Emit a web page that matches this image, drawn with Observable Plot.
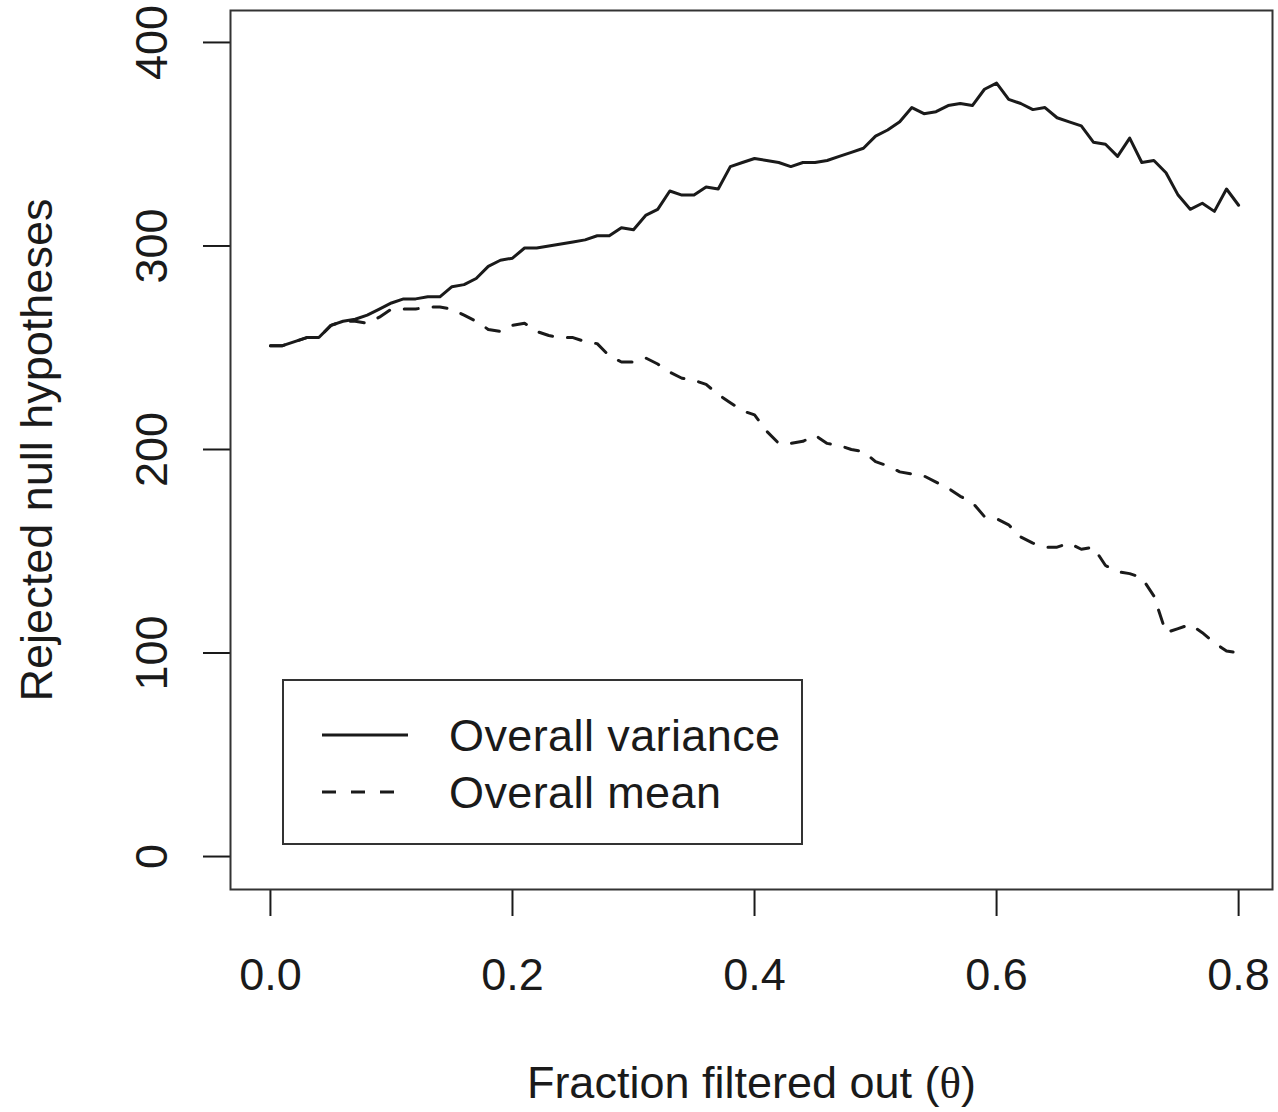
<!DOCTYPE html>
<html>
<head>
<meta charset="utf-8">
<script src="https://cdn.jsdelivr.net/npm/d3@7"></script>
<script src="https://cdn.jsdelivr.net/npm/@observablehq/plot@0.6"></script>
<style>
  body { margin: 0; background: white; }
  #chart { position: relative; width: 1278px; height: 1112px; font-family: "Liberation Sans", Arial, sans-serif; color: #1a1a1a; }
  .legend { position: absolute; left: 282px; top: 679px; width: 521px; height: 166px; box-sizing: border-box; border: 2px solid #333; background: white; }
  .legend .item { position: absolute; left: 38px; display: flex; align-items: center; font-size: 45px; line-height: 1; letter-spacing: 0.4px; }
  .legend .item span { margin-left: 41px; }
</style>
</head>
<body>
<div id="chart"></div>
<script>
// fraction filtered out, 0.00 .. 0.80 in steps of 0.01
var theta = d3.range(81).map(function(i) { return i / 100; });

// rejected null hypotheses, filter on overall variance
var varianceRejections = [
  251, 251, 253, 255, 255, 261, 263, 264, 266, 269,
  272, 274, 274, 275, 275, 280, 281, 284, 290, 293,
  294, 299, 299, 300, 301, 302, 303, 305, 305, 309,
  308, 315, 318, 327, 325, 325, 329, 328, 339, 341,
  343, 342, 341, 339, 341, 341, 342, 344, 346, 348,
  354, 357, 361, 368, 365, 366, 369, 370, 369, 377,
  380, 372, 370, 367, 368, 363, 361, 359, 351, 350,
  344, 353, 341, 342, 336, 325, 318, 321, 317, 328,
  320
];

// rejected null hypotheses, filter on overall mean
var meanRejections = [
  251, 251, 253, 255, 255, 261, 263, 263, 262, 265,
  269, 269, 269, 270, 270, 269, 266, 263, 259, 258,
  261, 262, 258, 256, 255, 255, 253, 252, 246, 243,
  243, 245, 242, 238, 235, 234, 232, 227, 223, 219,
  217, 209, 203, 203, 204, 207, 203, 202, 200, 199,
  194, 192, 189, 188, 187, 184, 181, 177, 174, 167,
  166, 163, 157, 154, 152, 152, 154, 151, 152, 143,
  140, 139, 137, 128, 110, 112, 114, 110, 105, 101,
  100
];

var xTicks = [0, 0.2, 0.4, 0.6, 0.8];
var yTicks = [0, 100, 200, 300, 400];
var seriesNames = ["Overall variance", "Overall mean"];

var ink = "#1a1a1a";
var dash = "14,15";

var plot = Plot.plot({
  width: 1278,
  height: 1112,
  marginLeft: 230,
  marginRight: 6,
  marginTop: 10,
  marginBottom: 223,
  style: {
    fontFamily: '"Liberation Sans", Arial, sans-serif',
    fontSize: "45px",
    color: ink,
    background: "white",
    overflow: "visible"
  },
  x: {domain: [-0.033, 0.828]},
  y: {domain: [-16.2, 415.7]},
  marks: [
    Plot.axisX({
      ticks: xTicks,
      tickFormat: d3.format(".1f"),
      tickSize: 27,
      tickPadding: 42,
      strokeWidth: 2,
      label: "Fraction filtered out (θ)",
      labelAnchor: "center",
      labelArrow: "none",
      labelOffset: 208
    }),
    Plot.axisY({
      ticks: yTicks,
      tickFormat: d3.format("d"),
      tickSize: 27,
      tickPadding: 37,
      tickRotate: -90,
      strokeWidth: 2,
      label: "Rejected null hypotheses",
      labelAnchor: "center",
      labelArrow: "none",
      labelOffset: 210
    }),
    Plot.lineY(meanRejections, {
      x: theta,
      y: function(d) { return d; },
      stroke: ink,
      strokeWidth: 3,
      strokeDasharray: dash
    }),
    Plot.lineY(varianceRejections, {
      x: theta,
      y: function(d) { return d; },
      stroke: ink,
      strokeWidth: 3
    }),
    Plot.frame({stroke: "#333", strokeWidth: 2})
  ]
});

// R draws the theta with its symbol (serif) font
d3.select(plot).selectAll("text").each(function() {
  var t = this.textContent;
  if (t.indexOf("θ") < 0 || this.childElementCount > 0) return;
  var parts = t.split("θ");
  var sel = d3.select(this).text(null);
  sel.append("tspan").text(parts[0]);
  sel.append("tspan").attr("font-family", '"Liberation Serif", "DejaVu Serif", serif').text("θ");
  sel.append("tspan").text(parts[1]);
});

var chart = document.getElementById("chart");
chart.appendChild(plot);

// legend box in the lower left of the panel, as in the R original
var legend = document.createElement("div");
legend.className = "legend";
[[seriesNames[0], null, 54], [seriesNames[1], dash, 111]].forEach(function(s) {
  var item = document.createElement("div");
  item.className = "item";
  item.style.top = (s[2] - 22) + "px";
  item.style.height = "44px";
  item.innerHTML =
    '<svg width="86" height="6"><line x1="0" x2="86" y1="3" y2="3" stroke="' + ink +
    '" stroke-width="3"' + (s[1] ? ' stroke-dasharray="' + s[1] + '"' : '') + '/></svg>' +
    '<span>' + s[0] + '</span>';
  legend.appendChild(item);
});
chart.appendChild(legend);
</script>
</body>
</html>
